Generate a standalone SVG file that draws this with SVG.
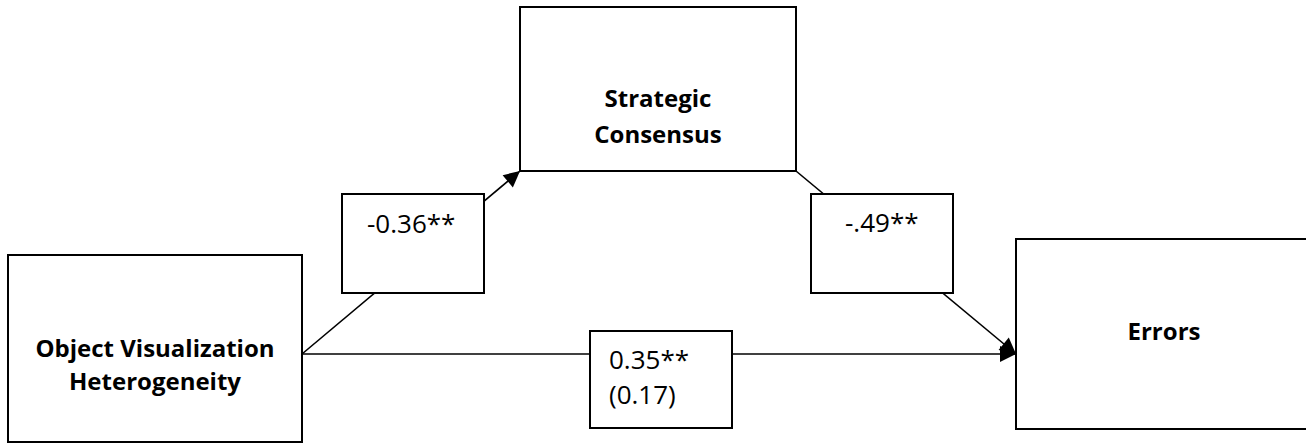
<svg xmlns="http://www.w3.org/2000/svg" width="1306" height="445" viewBox="0 0 1306 445">
<style>
.box{fill:#fff;stroke:#000;stroke-width:2}
.conn{fill:none;stroke:#000;stroke-width:1.6}
.bold{font-family:"Open Sans","Liberation Sans",sans-serif;font-weight:bold;font-size:24px;fill:#000;text-anchor:middle}
.lab{font-family:"Open Sans","Liberation Sans",sans-serif;font-size:26px;fill:#000}
</style>
<defs>
<marker id="ah" viewBox="0 0 10 10" refX="10" refY="5" markerWidth="19" markerHeight="16" markerUnits="userSpaceOnUse" orient="auto">
<path d="M0,0 L10,5 L0,10 Z" fill="#000"/>
</marker>
</defs>
<g id="connectors">
<line class="conn" x1="302" y1="354" x2="520" y2="171" marker-end="url(#ah)"/>
<line class="conn" x1="796" y1="171" x2="1016" y2="354" marker-end="url(#ah)"/>
<line class="conn" x1="302" y1="354" x2="1016" y2="354" marker-end="url(#ah)"/>
</g>
<g id="node-ovh">
<rect class="box" x="8" y="255" width="294" height="187"/>
<text class="bold" x="155" y="357">Object Visualization</text>
<text class="bold" x="155" y="390">Heterogeneity</text>
</g>
<g id="node-sc">
<rect class="box" x="520" y="7" width="276" height="164"/>
<text class="bold" x="658" y="107">Strategic</text>
<text class="bold" x="658" y="143">Consensus</text>
</g>
<g id="node-errors">
<rect class="box" x="1016" y="239" width="310" height="190"/>
<text class="bold" x="1164" y="340">Errors</text>
</g>
<g id="label-a">
<rect class="box" x="342" y="194" width="142" height="99"/>
<text class="lab" x="367" y="233">-0.36**</text>
</g>
<g id="label-b">
<rect class="box" x="811" y="194" width="142" height="99"/>
<text class="lab" x="845" y="232">-.49**</text>
</g>
<g id="label-c">
<rect class="box" x="590" y="331" width="142" height="97"/>
<text class="lab" x="609" y="369">0.35**</text>
<text class="lab" x="609" y="404">(0.17)</text>
</g>
</svg>
